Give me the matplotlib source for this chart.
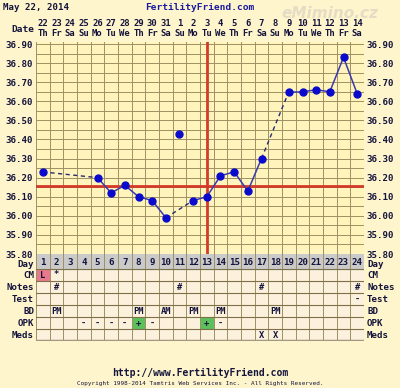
import matplotlib
matplotlib.use("Agg")
import matplotlib.pyplot as plt
import matplotlib.transforms as mtransforms
from matplotlib.patches import Rectangle
import numpy as np

# ---------------- data ----------------
days = list(range(1, 25))
date_nums = ["22", "23", "24", "25", "26", "27", "28", "29", "30", "31", "1", "2",
             "3", "4", "5", "6", "7", "8", "9", "10", "11", "12", "13", "14"]
weekdays = ["Th", "Fr", "Sa", "Su", "Mo", "Tu", "We", "Th", "Fr", "Sa", "Su", "Mo",
            "Tu", "We", "Th", "Fr", "Sa", "Su", "Mo", "Tu", "We", "Th", "Fr", "Sa"]
temps = [36.23, None, None, None, 36.20, 36.12, 36.16, 36.10, 36.08, 35.99, None, 36.08,
         36.10, 36.21, 36.23, 36.13, 36.30, None, 36.65, 36.65, 36.66, 36.65, 36.83, 36.64]
discarded_day = 11
discarded_temp = 36.43
coverline = 36.155
ovulation_day = 13
ytick_vals = [35.80, 35.90, 36.00, 36.10, 36.20, 36.30, 36.40, 36.50, 36.60, 36.70, 36.80, 36.90]

row_names = ["CM", "Notes", "Test", "BD", "OPK", "Meds"]
cm = {1: "L", 2: "*"}
notes = {2: "#", 11: "#", 17: "#", 24: "#"}
test = {24: "-"}
bd = {2: "PM", 8: "PM", 10: "AM", 12: "PM", 14: "PM", 18: "PM"}
opk = {4: "-", 5: "-", 6: "-", 7: "-", 8: "+", 9: "-", 13: "+", 14: "-"}
meds = {17: "X", 18: "X"}
row_data = [cm, notes, test, bd, opk, meds]
highlight = {("CM", 1): "#E8788C", ("OPK", 8): "#5CC05C", ("OPK", 13): "#5CC05C"}

# ---------------- style ----------------
W, H = 400, 388
BG = "#FFF5CC"
PLOT_BG = "#FFF4BC"
CELL_BG = "#FCF1DC"
GRID = "#9E9062"
TXT = "#14143C"
FONT = "DejaVu Sans Mono"

fig = plt.figure(figsize=(W / 100, H / 100), dpi=100, facecolor=BG)

def fx(px):
    return px / W

def fy(py):
    return 1 - py / H

# watermark (faint, behind everything)
fig.text(fx(330), fy(13), "eMimino.cz", ha="center", va="center", fontsize=11,
         family="DejaVu Sans", weight="bold", style="italic", color="#E4DCC4", zorder=0)

# main temperature axes
x0, x1 = 36, 364
y_top, y_bot = 42, 254
ax = fig.add_axes([fx(x0), fy(y_bot), fx(x1) - fx(x0), fy(y_top) - fy(y_bot)])
ax.set_facecolor(PLOT_BG)
ax.set_xlim(0.5, 24.5)
ax.set_ylim(35.80, 36.9105)
for d in np.arange(0.5, 25, 1):
    ax.axvline(d, color=GRID, lw=0.7, zorder=1)
for t in np.arange(35.80, 36.91, 0.05):
    ax.axhline(t, color=GRID, lw=0.7, zorder=1)
for s in ax.spines.values():
    s.set_visible(False)

ax.set_xticks([])
ax.set_yticks(ytick_vals)
ax.set_yticklabels([f"{v:.2f}" for v in ytick_vals])
ax.tick_params(axis="y", length=0, pad=2, labelsize=6.6, labelcolor=TXT,
               left=False, right=False, labelleft=True, labelright=True)
for lab in ax.get_yticklabels():
    lab.set_fontfamily(FONT)
    lab.set_fontweight("bold")

# coverline and ovulation line
ax.axhline(coverline, color="#D43A2A", lw=2, zorder=3)
ax.axvline(ovulation_day, color="#D43A2A", lw=2, zorder=3)

# temperature line: solid between consecutive days, dashed across gaps
valid = [(d, t) for d, t in zip(days, temps) if t is not None]
for (da, ta), (db, tb) in zip(valid[:-1], valid[1:]):
    if db - da == 1:
        ax.plot([da, db], [ta, tb], color="#3A3AB0", lw=1.1, zorder=4)
    else:
        ax.plot([da, db], [ta, tb], color="#2A2A70", lw=1.0, ls=(0, (3, 2.5)), zorder=4)
ax.plot([d for d, _ in valid], [t for _, t in valid], "o", color="#0A0ACC",
        ms=5, zorder=5)
ax.plot([discarded_day], [discarded_temp], "o", color="#0A0ACC", ms=5, zorder=5)

# date header
trans = mtransforms.blended_transform_factory(ax.transData, fig.transFigure)
for d, n, w in zip(days, date_nums, weekdays):
    ax.text(d, fy(24), n, transform=trans, ha="center", va="center", fontsize=6.4,
            family=FONT, weight="bold", color=TXT, clip_on=False)
    ax.text(d, fy(34), w, transform=trans, ha="center", va="center", fontsize=6.4,
            family=FONT, weight="bold", color=TXT, clip_on=False)
fig.text(fx(34), fy(29), "Date", ha="right", va="center", fontsize=6.8,
         family=FONT, weight="bold", color=TXT)

# titles
fig.text(fx(3), fy(7), "May 22, 2014", ha="left", va="center", fontsize=6.6,
         family=FONT, weight="bold", color=TXT)
fig.text(fx(200), fy(7), "FertilityFriend.com", ha="center", va="center", fontsize=6.8,
         family=FONT, weight="bold", color="#1A1AA0")

# ---------------- table axes ----------------
t_top, t_bot = 254, 341
tax = fig.add_axes([fx(x0), fy(t_bot), fx(x1) - fx(x0), fy(t_top) - fy(t_bot)])
tax.set_facecolor(CELL_BG)
tax.set_xlim(0.5, 24.5)
day_h = 1.25
n_rows = len(row_names)
tax.set_ylim(day_h + n_rows, 0)
tax.set_xticks([])
tax.set_yticks([])
for s in tax.spines.values():
    s.set_visible(False)

tax.axhspan(0, day_h, color="#CACACA", zorder=0)
for (rname, d), col in highlight.items():
    r = row_names.index(rname)
    tax.add_patch(Rectangle((d - 0.5, day_h + r), 1, 1, facecolor=col,
                            edgecolor="none", zorder=0.5))
for d in np.arange(0.5, 25, 1):
    tax.axvline(d, color=GRID, lw=0.7, zorder=1)
for r in range(n_rows + 1):
    tax.axhline(day_h + r, color="#7E7048", lw=0.8, zorder=1)
tax.axhline(day_h + n_rows, color="#A09880", lw=2.5, zorder=2)

for d in days:
    tax.text(d, day_h / 2 + 0.05, str(d), ha="center", va="center", fontsize=6.6,
             family=FONT, weight="bold", color=TXT)
for r, data in enumerate(row_data):
    for d, v in data.items():
        tax.text(d, day_h + r + 0.5, v, ha="center", va="center", fontsize=6.3,
                 family=FONT, weight="bold", color=TXT)

ttrans = mtransforms.blended_transform_factory(fig.transFigure, tax.transData)
labels_all = ["Day"] + row_names
centers = [0.87] + [day_h + r + 0.5 for r in range(n_rows)]
for lab, c in zip(labels_all, centers):
    tax.text(fx(34), c, lab, transform=ttrans, ha="right", va="center", fontsize=6.6,
             family=FONT, weight="bold", color=TXT, clip_on=False)
    tax.text(fx(367), c, lab, transform=ttrans, ha="left", va="center", fontsize=6.6,
             family=FONT, weight="bold", color=TXT, clip_on=False)

# footer
fig.text(fx(200), fy(373), "http://www.FertilityFriend.com", ha="center", va="center",
         fontsize=7, family=FONT, weight="bold", color=TXT)
fig.text(fx(200), fy(383), "Copyright 1998-2014 Tamtris Web Services Inc. - All Rights Reserved.",
         ha="center", va="center", fontsize=4.3, family=FONT, color=TXT)

fig.savefig("out.png", dpi=100, facecolor=BG)
